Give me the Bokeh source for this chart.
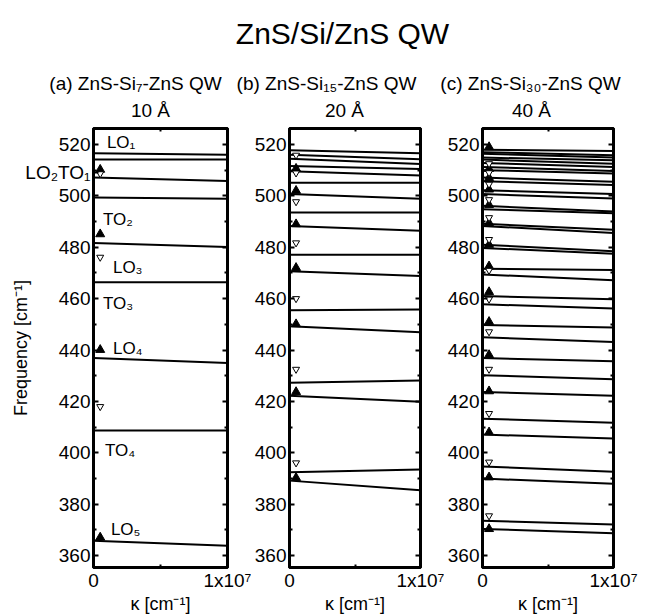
from bokeh.plotting import figure
from bokeh.models import (Range1d, LinearAxis, FixedTicker, Label, ColumnDataSource,
                          CustomJSTickFormatter)
from bokeh.layouts import row, column
from bokeh.embed import file_html
from bokeh.resources import INLINE
from bokeh.core.properties import value

FONT = "Liberation Sans"

# ---------------- data ----------------
K_MAX = 1.0e7
K_MARK = 5.0e5
Y_MIN, Y_MAX = 355.4, 526.2

y_ticks = [360, 380, 400, 420, 440, 460, 480, 500, 520]
y_minor = [370, 390, 410, 430, 450, 470, 490, 510]
x_ticks = [0, 10000000]
x_tick_labels = ["0", "1x10⁷"]
x_minor = [5000000]

# panel (a) ZnS-Si7-ZnS, 10 A : branch frequency at k=0 and k=1e7
a_start = [516.6, 514.1, 507.1, 499.4, 481.7, 466.4, 436.9, 408.7, 365.8]
a_end = [516.0, 514.1, 505.8, 498.9, 480.1, 466.4, 435.0, 408.7, 363.9]
a_up = [510.2, 485.1, 440.1, 367.1]
a_down = [508.6, 476.1, 418.0]

# panel (b) ZnS-Si15-ZnS, 20 A
b_start = [517.7, 516.0, 514.4, 511.6, 509.6, 505.1, 500.7, 493.5, 488.3, 477.1,
           470.7, 455.5, 449.3, 427.3, 422.2, 392.5, 389.2]
b_end = [516.6, 514.2, 512.4, 510.4, 507.9, 505.1, 498.9, 493.5, 486.4, 477.1,
         468.8, 455.8, 446.9, 428.2, 419.9, 393.5, 385.5]
b_up = [510.6, 502.0, 489.0, 472.0, 450.1, 423.7, 390.3]
b_down = [515.8, 508.9, 497.7, 481.7, 460.0, 432.5, 396.1]

# panel (c) ZnS-Si30-ZnS, 40 A
c_start = [517.9, 517.0, 516.4, 514.9, 514.1, 512.8, 511.2, 510.0, 507.1, 505.7,
           502.2, 500.7, 496.1, 494.8, 489.1, 488.3, 481.0, 479.7, 471.6, 469.4,
           461.0, 457.8, 449.7, 445.0, 436.9, 430.2, 423.7, 413.3, 407.1, 394.7,
           390.0, 373.6, 370.4]
c_end = [517.4, 515.8, 514.9, 513.8, 512.5, 511.2, 509.7, 508.7, 505.5, 504.2,
         500.7, 499.0, 493.9, 493.2, 486.8, 485.5, 478.4, 477.5, 471.1, 467.2,
         459.8, 456.2, 448.8, 443.1, 435.6, 428.6, 422.2, 411.7, 405.6, 392.7,
         388.0, 372.1, 368.7]
c_up = [519.0, 510.5, 507.0, 502.5, 496.5, 489.5, 481.0, 472.6, 462.6, 451.0,
        438.1, 424.0, 408.0, 390.5, 370.4]
c_down = [512.5, 509.0, 504.5, 498.5, 491.5, 483.0, 471.0, 459.8, 447.1, 432.5,
          415.3, 396.4, 375.5]

# mode labels in panel (a): text, k position, frequency (baseline)
a_label_text = ["LO₁", "TO₂", "LO₃", "TO₃", "LO₄", "TO₄", "LO₅"]
a_label_k = [1.0e6, 0.7e6, 1.45e6, 0.7e6, 1.45e6, 0.85e6, 1.3e6]
a_label_f = [520.8, 490.7, 472.0, 458.2, 440.8, 400.8, 370.3]
# mode label that sits left of frame (a), beside the frequency axis
a_side_f = 509.0
a_side_text = "LO₂TO₁"

main_title = "ZnS/Si/ZnS QW"
panel_titles = ["(a) ZnS-Si₇-ZnS QW", "(b) ZnS-Si₁₅-ZnS QW", "(c) ZnS-Si₃₀-ZnS QW"]
panel_widths_txt = ["10 Å", "20 Å", "40 Å"]

# ---------------- layout ----------------
HEADER_H = 120
PANEL_H = 496
TOP_B = 8
BB = 44
FRAME_W = 134
specs = [  # (min_border_left, min_border_right)
    (93, 24),
    (35, 24),
    (35, 30),
]
TOTAL_W = sum(l + FRAME_W + r for l, r in specs)

TICK_FS = "19px"


def style_axis(ax):
    ax.axis_line_width = 3
    ax.axis_line_color = "black"
    ax.major_tick_in = 5
    ax.major_tick_out = 0
    ax.minor_tick_in = 3
    ax.minor_tick_out = 0
    ax.major_tick_line_width = 2
    ax.minor_tick_line_width = 2
    ax.major_label_text_font = FONT
    ax.major_label_text_font_size = TICK_FS
    ax.major_label_text_color = "black"
    ax.axis_label_text_font = FONT
    ax.axis_label_text_font_style = "normal"
    ax.axis_label_text_color = "black"


def make_panel(starts, ends, ups, downs, bl, br, ylabel=None, side=None):
    p = figure(width=bl + FRAME_W + br, height=PANEL_H, title=None,
               x_range=Range1d(0, K_MAX), y_range=Range1d(Y_MIN, Y_MAX),
               x_axis_type=None, y_axis_type=None,
               output_backend="svg", toolbar_location=None,
               min_border_left=bl, min_border_right=br,
               min_border_top=TOP_B, min_border_bottom=BB)
    p.outline_line_color = "black"
    p.outline_line_width = 3
    p.background_fill_color = "white"
    p.border_fill_color = "white"

    xt = FixedTicker(ticks=x_ticks, minor_ticks=x_minor)
    yt = FixedTicker(ticks=y_ticks, minor_ticks=y_minor)

    bottom = LinearAxis(ticker=xt, axis_label="κ [cm⁻¹]",
                        major_label_overrides=dict(zip(x_ticks, x_tick_labels)))
    style_axis(bottom)
    bottom.major_label_standoff = 2
    bottom.axis_label_standoff = 0
    bottom.axis_label_text_font_size = "18px"

    if side is not None:
        sf, st = side
        lt = FixedTicker(ticks=y_ticks + [sf], minor_ticks=y_minor)
        left = LinearAxis(ticker=lt, axis_label=ylabel,
                          major_label_overrides={sf: st})
    else:
        left = LinearAxis(ticker=yt, axis_label=ylabel)
    style_axis(left)
    left.major_label_standoff = 3
    left.axis_label_standoff = -9 if side is not None else 24
    left.axis_label_text_font_size = "18px"

    right = LinearAxis(ticker=yt, formatter=CustomJSTickFormatter(code="return ''"))
    style_axis(right)
    right.major_label_standoff = 0
    top = LinearAxis(ticker=xt, formatter=CustomJSTickFormatter(code="return ''"))
    style_axis(top)
    top.major_label_standoff = 0

    p.add_layout(bottom, "below")
    p.add_layout(left, "left")
    p.add_layout(right, "right")
    p.add_layout(top, "above")

    src = ColumnDataSource(dict(x0=[0.0] * len(starts), y0=starts,
                                x1=[K_MAX] * len(ends), y1=ends))
    p.segment(x0="x0", y0="y0", x1="x1", y1="y1", source=src,
              line_color="black", line_width=2)
    p.scatter(x=[K_MARK] * len(ups), y=ups, marker="triangle", size=9,
              fill_color="black", line_color="black")
    p.scatter(x=[K_MARK] * len(downs), y=downs, marker="inverted_triangle", size=7,
              fill_color="white", line_color="black", line_width=1)
    return p


pa = make_panel(a_start, a_end, a_up, a_down, *specs[0], ylabel="Frequency [cm⁻¹]",
                side=(a_side_f, a_side_text))
pb = make_panel(b_start, b_end, b_up, b_down, *specs[1])
pc = make_panel(c_start, c_end, c_up, c_down, *specs[2])

for t, k, f in zip(a_label_text, a_label_k, a_label_f):
    pa.add_layout(Label(x=k, y=f, text=t, text_font=FONT, text_font_size="17px",
                        text_baseline="alphabetic", text_color="black"))

# header with the titles
header = figure(width=TOTAL_W, height=HEADER_H, title=None,
                x_range=Range1d(0, TOTAL_W), y_range=Range1d(HEADER_H, 0),
                x_axis_type=None, y_axis_type=None,
                output_backend="svg", toolbar_location=None, min_border=0)
header.outline_line_color = None

header.text(x=[342], y=[33], text=[main_title], text_font=value(FONT),
            text_font_size="30px", text_align="center", text_baseline="alphabetic",
            text_color="black")
header.text(x=[135, 326, 530], y=[83, 83, 83], text=panel_titles, text_font=value(FONT),
            text_font_size="19px", text_align="center", text_baseline="alphabetic",
            text_color="black")
header.text(x=[150, 344, 531], y=[110, 110, 110], text=panel_widths_txt,
            text_font=value(FONT), text_font_size="19px", text_align="center",
            text_baseline="alphabetic", text_color="black")

layout = column(header, row(pa, pb, pc))

open("out.html", "w").write(file_html(layout, INLINE))
